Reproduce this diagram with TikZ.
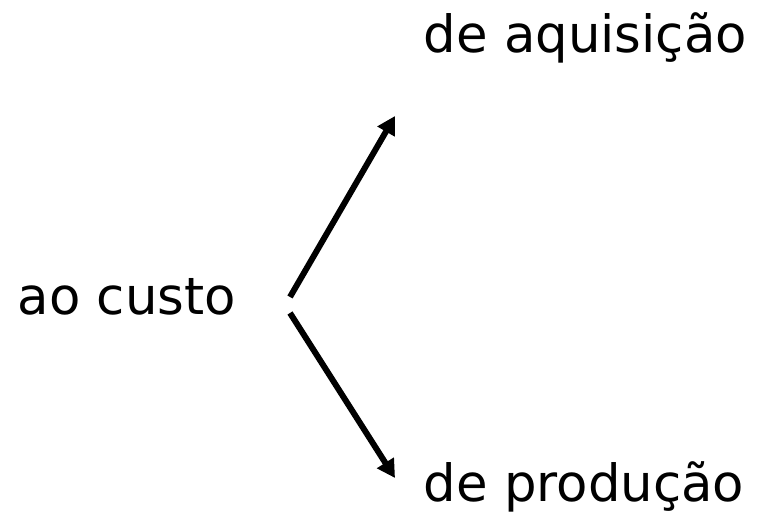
\documentclass[tikz,border=0pt]{standalone}
\usepackage{fontspec}
\setmainfont{DejaVu Sans}
\usetikzlibrary{arrows.meta}

\tikzset{
  label text/.style={inner sep=0pt, anchor=base west, font=\fontsize{14.6}{18}\selectfont},
  branch/.style={line width=1.7pt, -{Triangle[length=0.18cm,width=0.19cm]}}
}

\begin{document}
\begin{tikzpicture}
      \useasboundingbox (0,0) rectangle (7.63,5.18);
      \node[label text] (custo) at (0.17,2.03) {ao custo};
      \node[label text] (aquisicao) at (4.23,4.65) {de aquisição};
      \node[label text] (producao) at (4.23,0.16) {de produção};
      \coordinate (upstart) at (2.90,2.21);
      \coordinate (downstart) at (2.90,2.05);
      \coordinate (uptip) at (3.95,4.02);
      \coordinate (downtip) at (3.95,0.40);
      \draw[branch] (upstart) -- (uptip);
      \draw[branch] (downstart) -- (downtip);
    \end{tikzpicture}
\end{document}
